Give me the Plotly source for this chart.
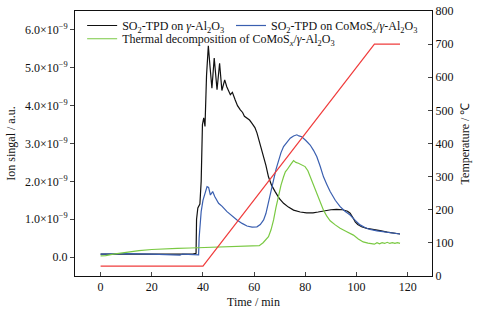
import plotly.graph_objects as go

# Time (min) and ion signal (units of 1e-9 a.u.)
black_t = [0, 10, 20, 30, 36, 37.3, 37.5, 38, 38.8, 39.3, 39.8, 40.3, 40.8, 41.4, 42.1, 42.8, 43.5, 44.4,
           45.5, 46.5, 47.4, 48.5, 49.3, 50.7, 51.5, 52.6, 53.5, 54.6, 55.5, 56.2, 57.2, 58.2, 59.1, 60.3,
           61.1, 62.3, 63.7, 64.6, 65.6, 66.8, 68.2, 69.8, 71.5, 73.4, 75.4, 78, 80.5, 83, 85, 87.1, 90,
           92.2, 94.5, 96.5, 97.5, 98.5, 99.5, 100.5, 102, 104, 106, 109.2, 112, 115, 117]
black_v = [0.08, 0.08, 0.08, 0.07, 0.08, 0.1, 1.0, 1.3, 1.4, 2.0, 3.5, 3.68, 3.45, 4.8, 5.58, 5.0, 4.46, 5.26,
           4.42, 5.12, 4.4, 4.68, 4.5, 4.29, 4.35, 4.15, 4.0, 3.89, 3.82, 3.72, 3.67, 3.62, 3.54, 3.42,
           3.28, 3.0, 2.7, 2.42, 2.12, 1.9, 1.73, 1.55, 1.42, 1.32, 1.24, 1.19, 1.17, 1.17, 1.19, 1.22, 1.25,
           1.26, 1.25, 1.21, 1.16, 1.05, 0.93, 0.86, 0.8, 0.76, 0.73, 0.70, 0.66, 0.63, 0.61]

blue_t = [0, 10, 20, 30, 31, 32, 37, 38.3, 38.5, 39.3, 40, 41, 41.6, 42.2, 42.9, 43.8, 44.6, 46.1, 47.5,
          49.4, 51.3, 53.3, 55.3, 57.2, 59.2, 61.1, 62.4, 63.7, 64.6, 65.6, 66.6, 67.6, 68.6, 69.5, 70.5,
          71.5, 72.8, 74.1, 75.4, 76.7, 77.5, 78.6, 80.2, 81.9, 83.2, 84.5, 85.8, 87.1, 88.4, 89.7, 91.7,
          93.6, 95.5, 97.5, 99.5, 101.4, 103.3, 105.3, 108, 111, 114, 117]
blue_v = [0.08, 0.09, 0.08, 0.07, 0.05, 0.08, 0.07, 0.06, 0.5, 1.2, 1.5, 1.7, 1.86, 1.84, 1.64, 1.73, 1.6,
          1.42, 1.34, 1.2, 1.08, 0.98, 0.89, 0.82, 0.79, 0.80, 0.86, 0.98, 1.15, 1.42, 1.74, 2.04, 2.33,
          2.57, 2.76, 2.92, 3.04, 3.14, 3.2, 3.23, 3.2, 3.18, 3.08, 2.96, 2.82, 2.65, 2.4, 2.12, 1.92, 1.73,
          1.5, 1.33, 1.21, 1.11, 0.97, 0.85, 0.78, 0.73, 0.69, 0.66, 0.63, 0.61]

green_t = [0, 2, 5, 10, 15, 20, 25, 30, 35, 40, 45, 50, 55, 60, 62, 63.5, 64.5, 65.6, 66.6, 67.6, 68.5,
           69.5, 70.5, 71.5, 72.2, 72.8, 73.5, 74.3, 75.4, 76.3, 77.3, 78.6, 79.9, 81, 81.9, 83.2, 84.5,
           85.8, 87.1, 88.4, 89.7, 91.7, 93.6, 96.2, 98.8, 100.7, 102.6, 104.5, 106, 107, 108, 109, 110,
           111, 112, 113, 114, 115, 116, 117]
green_v = [0.03, 0.04, 0.08, 0.13, 0.17, 0.2, 0.22, 0.23, 0.24, 0.25, 0.26, 0.27, 0.28, 0.28, 0.3, 0.38,
           0.45, 0.54, 0.72, 0.98, 1.3, 1.64, 1.9, 2.12, 2.25, 2.3, 2.38, 2.45, 2.55, 2.5, 2.48, 2.43, 2.39,
           2.28, 2.12, 1.9, 1.69, 1.46, 1.24, 1.08, 0.96, 0.85, 0.76, 0.67, 0.58, 0.48, 0.40, 0.37, 0.36,
           0.34, 0.38, 0.35, 0.38, 0.36, 0.39, 0.36, 0.38, 0.36, 0.38, 0.36]

temp_t = [0, 40, 107, 117]
temp_v = [30, 30, 700, 700]

left_ticks = [0, 1, 2, 3, 4, 5, 6]
left_ticktext = ["0.0"] + [f"{k}.0×10<sup>−9</sup>" for k in left_ticks[1:]]
x_ticks = [0, 20, 40, 60, 80, 100, 120]
right_ticks = [0, 100, 200, 300, 400, 500, 600, 700, 800]

SCALE = 1e-9
FONT = "Liberation Serif, Times New Roman, serif"

fig = go.Figure()
fig.add_trace(go.Scatter(x=black_t, y=[v * SCALE for v in black_v], mode="lines",
                         line=dict(color="#111111", width=1.2), legend="legend",
                         name="SO<sub>2</sub>-TPD on <i>γ</i>-Al<sub>2</sub>O<sub>3</sub>"))
fig.add_trace(go.Scatter(x=blue_t, y=[v * SCALE for v in blue_v], mode="lines",
                         line=dict(color="#3a5fb0", width=1.2), legend="legend2",
                         name="SO<sub>2</sub>-TPD on CoMoS<sub><i>x</i></sub>/<i>γ</i>-Al<sub>2</sub>O<sub>3</sub>"))
fig.add_trace(go.Scatter(x=green_t, y=[v * SCALE for v in green_v], mode="lines",
                         line=dict(color="#7ac943", width=1.2), legend="legend3",
                         name="Thermal decomposition of CoMoS<sub><i>x</i></sub>/<i>γ</i>-Al<sub>2</sub>O<sub>3</sub>"))
fig.add_trace(go.Scatter(x=temp_t, y=temp_v, mode="lines", yaxis="y2",
                         line=dict(color="#f03c3c", width=1.2), showlegend=False))

leg = dict(orientation="h", xanchor="left", yanchor="top",
           bgcolor="rgba(0,0,0,0)", font=dict(size=12), itemwidth=30)

fig.update_layout(
    width=483, height=309,
    margin=dict(l=75, r=51, t=11, b=33, autoexpand=False),
    paper_bgcolor="white", plot_bgcolor="white",
    font=dict(family=FONT, size=12, color="#111111"),
    xaxis=dict(range=[-10, 129.5], tickvals=x_ticks, ticks="inside", ticklen=4,
               showline=True, linecolor="#111111", linewidth=1, mirror=True,
               showgrid=False, zeroline=False,
               title=dict(text="Time / min", standoff=4, font=dict(size=12))),
    yaxis=dict(range=[-0.5 * SCALE, 6.5 * SCALE], tickvals=[k * SCALE for k in left_ticks],
               ticktext=left_ticktext, ticks="outside", ticklen=4,
               showline=True, linecolor="#111111", linewidth=1,
               showgrid=False, zeroline=False,
               title=dict(text="Ion singal / a.u.", standoff=6, font=dict(size=12))),
    yaxis2=dict(range=[0, 800], tickvals=right_ticks, ticks="inside", ticklen=4,
                overlaying="y", side="right",
                showline=True, linecolor="#111111", linewidth=1,
                showgrid=False, zeroline=False,
                title=dict(text="Temperature / ℃", standoff=8, font=dict(size=12))),
    legend=dict(leg, x=0.02, y=1.0),
    legend2=dict(leg, x=0.437, y=1.0),
    legend3=dict(leg, x=0.02, y=0.95),
    showlegend=True,
)

fig.write_html("out.html", config={"displayModeBar": False},
               post_script="document.body.style.margin='0';")
